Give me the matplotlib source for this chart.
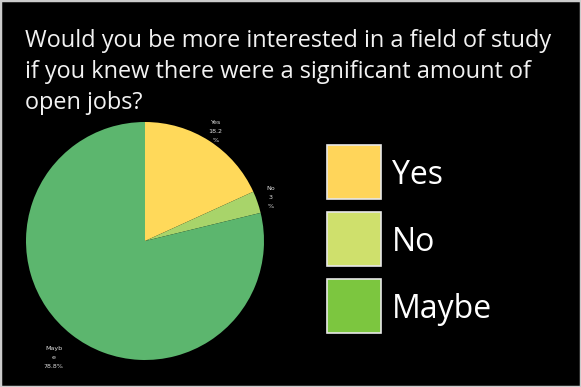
import matplotlib
matplotlib.use("Agg")
import matplotlib.pyplot as plt
import numpy as np
from matplotlib.patches import Rectangle

title = "Would you be more interested in a field of study\nif you knew there were a significant amount of\nopen jobs?"
categories = ["Yes", "No", "Maybe"]
values = [18.2, 3.0, 78.8]
pie_labels = ["Yes\n18.2\n%", "No\n3\n%", "Mayb\ne\n78.8%"]
pie_colors = ["#FFD95A", "#A8D46A", "#5CB66E"]
legend_colors = ["#FFD55A", "#CFE06C", "#7CC63F"]
label_dist = [1.09, 1.12, 1.24]

W, H = 581, 387
fig = plt.figure(figsize=(W / 100, H / 100), dpi=100, facecolor="black")

# light frame
fig.patches.append(Rectangle((0, 0), 1, 1, transform=fig.transFigure,
                             facecolor="none", edgecolor="#cccccc", lw=2.5))

fig.text(25 / W, 1 - 29 / H, title, color="#f2f2f2", fontsize=16.9,
         family="Open Sans", va="top", ha="left", linespacing=1.39)

# pie
cx, cy, r = 145, 241, 119
ax = fig.add_axes([(cx - r) / W, (H - cy - r) / H, 2 * r / W, 2 * r / H])
ax.set_facecolor("black")
wedges, _ = ax.pie(values, colors=pie_colors, startangle=90, counterclock=False,
                   radius=1, wedgeprops=dict(linewidth=0))
ax.set_xlim(-1, 1)
ax.set_ylim(-1, 1)
ax.set_aspect("equal")
ax.axis("off")
for w, lab, d in zip(wedges, pie_labels, label_dist):
    ang = np.deg2rad((w.theta1 + w.theta2) / 2)
    ax.text(d * np.cos(ang), d * np.sin(ang), lab, color="#dddddd",
            fontsize=4.6, ha="center", va="center", linespacing=2.0,
            clip_on=False)

# legend
sq = 54
x0 = 327
ys = [145, 212, 279]
for cat, col, y in zip(categories, legend_colors, ys):
    fig.patches.append(Rectangle((x0 / W, 1 - (y + sq) / H), sq / W, sq / H,
                                 transform=fig.transFigure, facecolor=col,
                                 edgecolor="#e8e8e8", lw=1.2))
    fig.text(392 / W, 1 - (y + sq / 2 + 3) / H, cat, color="white", fontsize=23,
             family="Open Sans", va="center", ha="left")

fig.savefig("out.png", dpi=100, facecolor="black")
